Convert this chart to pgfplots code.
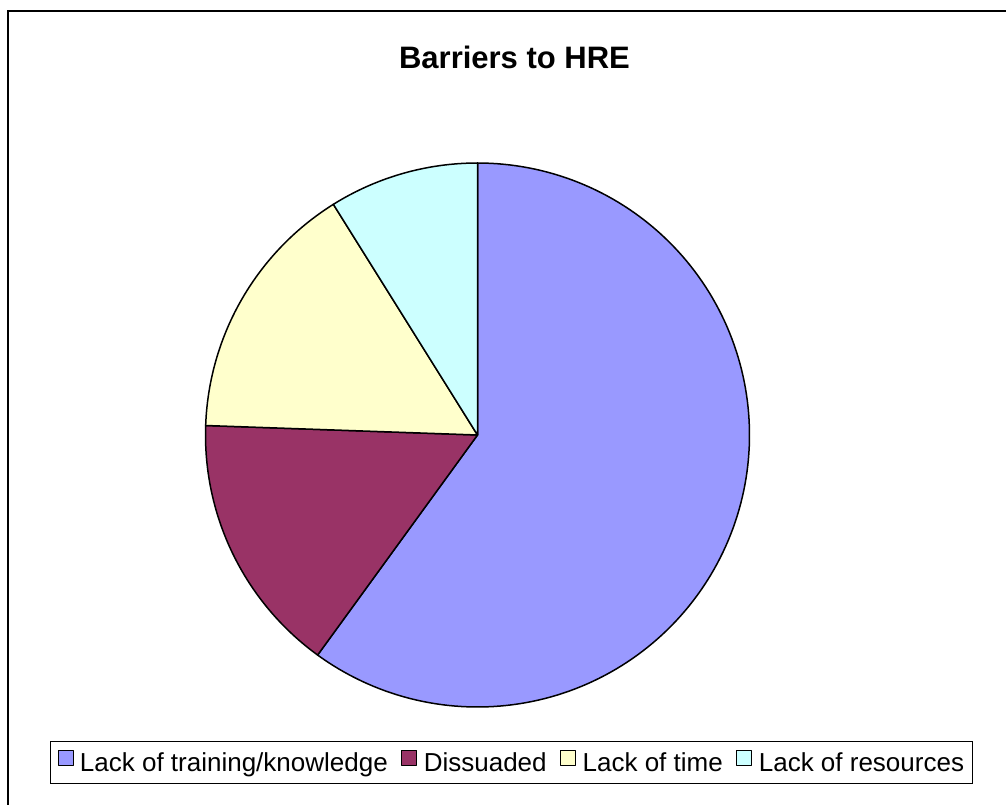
\documentclass[border=0pt]{standalone}
\usepackage{fontspec}
\setmainfont{Liberation Sans}
\usepackage{pgfplots}
\pgfplotsset{compat=1.18}
\definecolor{cA}{HTML}{9999FF}
\definecolor{cB}{HTML}{993366}
\definecolor{cC}{HTML}{FFFFCC}
\definecolor{cD}{HTML}{CCFFFF}
% values of the four slices
\def\vA{27}\def\vB{7}\def\vC{7}\def\vD{4}
\begin{document}
\begin{tikzpicture}[x=1pt,y=1pt]
\useasboundingbox (0,0) rectangle (1006,804);
\draw[line width=2pt] (8,-100) rectangle (1100,793);
\node[anchor=base, font=\fontsize{31}{36}\selectfont\bfseries, inner sep=0pt] at (514.5,735) {Barriers to HRE};
\pgfmathsetmacro{\tot}{\vA+\vB+\vC+\vD}
\pgfmathsetmacro{\aO}{90}
\pgfmathsetmacro{\aA}{90-360*\vA/\tot}
\pgfmathsetmacro{\aB}{\aA-360*\vB/\tot}
\pgfmathsetmacro{\aC}{\aB-360*\vC/\tot}
\pgfmathsetmacro{\aD}{\aC-360*\vD/\tot}
\begin{axis}[at={(477.5pt,369pt)}, anchor=center,
  x=272pt, y=272pt, xmin=-1, xmax=1, ymin=-1, ymax=1,
  hide axis, clip=false,
  legend columns=4,
  legend style={at={(0.5616,-0.102)}, anchor=center, draw=black, line width=0.8pt,
    font=\fontsize{26}{30}\selectfont, inner xsep=6pt, inner ysep=8pt,
    /tikz/every even column/.append style={column sep=10pt}},
  legend image code/.code={\draw[#1, line width=0.8pt] (2pt,-2pt) rectangle (17pt,13pt);\path[draw=none,fill=none] (0pt,0pt) -- (22pt,0pt);},
  every axis plot/.append style={draw=black, line width=1.5pt, line join=round, samples=160}]
\addplot[fill=cA, domain=\aA:\aO] ({cos(x)},{sin(x)}) -- (0,0) -- cycle;
\addlegendentry{Lack of training/knowledge}
\addplot[fill=cB, domain=\aB:\aA] ({cos(x)},{sin(x)}) -- (0,0) -- cycle;
\addlegendentry{Dissuaded}
\addplot[fill=cC, domain=\aC:\aB] ({cos(x)},{sin(x)}) -- (0,0) -- cycle;
\addlegendentry{Lack of time}
\addplot[fill=cD, domain=\aD:\aC] ({cos(x)},{sin(x)}) -- (0,0) -- cycle;
\addlegendentry{Lack of resources}
\end{axis}
\end{tikzpicture}
\end{document}
